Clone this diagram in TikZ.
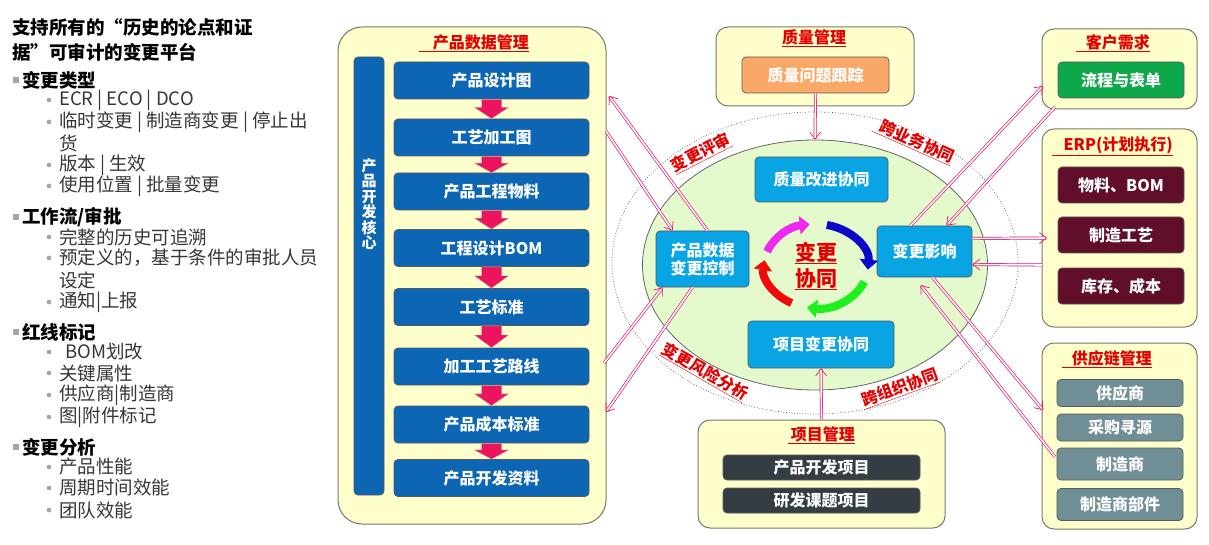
\documentclass[tikz,border=0pt]{standalone}
\usepackage{fontspec}
\setmainfont{Noto Sans CJK SC}
\usetikzlibrary{shapes,arrows.meta,calc}

\definecolor{panelfill}{RGB}{255,255,204}
\definecolor{panelline}{RGB}{120,120,110}
\definecolor{pdblue}{RGB}{12,102,180}
\definecolor{cyanbox}{RGB}{8,164,228}
\definecolor{collabgreen}{RGB}{228,250,204}
\definecolor{linkpink}{RGB}{232,24,112}
\definecolor{blockpink}{RGB}{236,20,92}
\definecolor{titlered}{RGB}{228,0,0}
\definecolor{qorange}{RGB}{250,168,104}
\definecolor{cusgreen}{RGB}{14,168,74}
\definecolor{erpmaroon}{RGB}{96,14,42}
\definecolor{prjdark}{RGB}{52,60,68}
\definecolor{scmgray}{RGB}{112,142,150}
\definecolor{listgray}{RGB}{55,55,55}
\definecolor{bulletgray}{RGB}{165,165,165}
\definecolor{cycmagenta}{RGB}{240,40,240}
\definecolor{cycblue}{RGB}{10,10,200}
\definecolor{cycgreen}{RGB}{30,240,30}
\definecolor{cycred}{RGB}{240,10,10}

\begin{document}
\begin{tikzpicture}[x=1pt,y=-1pt]
\tikzset{
	panel/.style={draw=panelline, fill=panelfill, line width=1pt, rounded corners=12pt},
	ptitle/.style={text=titlered, font=\bfseries\fontsize{16}{18}\selectfont, inner sep=0pt},
	box/.style={draw=gray!70!black, line width=0.7pt, rounded corners=4pt, text=white, font=\bfseries\fontsize{16}{18}\selectfont, inner sep=0pt},
	pdbox/.style={box, fill=pdblue, minimum width=195pt, minimum height=37pt},
	cobox/.style={box, fill=cyanbox, align=center},
	sidebox/.style={box, minimum width=126pt, minimum height=36pt},
	link/.style={draw=linkpink, line width=0.7pt, double=white, double distance=1.6pt, -{Straight Barb[length=7pt,width=11pt]}},
	blockarr/.style={fill=blockpink, draw=gray!60, line width=0.4pt},
	cycarr/.style={line width=8pt, -{Triangle[length=10pt,width=18pt]}},
	arclabel/.style={text=titlered, font=\bfseries\fontsize{16}{18}\selectfont, inner sep=0pt},
	listhead/.style={anchor=west, inner sep=0pt, font=\bfseries\fontsize{18.5}{20}\selectfont},
	listitem/.style={anchor=west, inner sep=0pt, text=listgray, font=\fontsize{18.5}{20}\selectfont}
}

\fill[white] (0,0) rectangle (1209,545);
\useasboundingbox (0,0) rectangle (1209,545);

% left list
\node[listhead] (ttl1) at (12,27) {支持所有的“历史的论点和证};
\node[listhead] (ttl2) at (12,52) {据”可审计的变更平台};
\foreach \y/\t in {80/变更类型, 217/{工作流/审批}, 332/红线标记, 447/变更分析}{
	\fill[bulletgray] (13,\y-3) rectangle (19,\y+3);
	\node[listhead] at (22,\y) {\t};
}
\foreach \y/\t in {100/{ECR | ECO | DCO}, 122/{临时变更 | 制造商变更 |  停止出}, 165/{版本 |  生效}, 186/{使用位置 | 批量变更}, 237/完整的历史可追溯, 258/预定义的，基于条件的审批人员, 302/通知|上报, 352/{\hspace{6pt}BOM划改}, 373/关键属性, 395/供应商|制造商, 417/图|附件标记, 467/产品性能, 488/周期时间效能, 510/团队效能}{
	\fill[bulletgray] (49,\y) circle (2.3);
	\node[listitem] at (59,\y) {\t};
}
\node[listitem] at (59,143) {货};
\node[listitem] at (59,280) {设定};

% panels
\node[panel, rounded corners=24pt, minimum width=268pt, minimum height=497pt] (pdm) at (472,275.5) {};
\node[panel, minimum width=198pt, minimum height=79pt] (qm) at (815,66.5) {};
\node[panel, minimum width=155pt, minimum height=80pt] (cus) at (1119.5,69) {};
\node[panel, minimum width=155pt, minimum height=198pt] (erp) at (1119.5,228) {};
\node[panel, minimum width=155pt, minimum height=186pt] (scm) at (1119.5,436) {};
\node[panel, minimum width=247pt, minimum height=108pt] (prj) at (821.5,474) {};

\node[ptitle, anchor=east] at (529,43) {\underline{\hspace{14pt}产品数据管理}};
\node[ptitle] at (814,38) {\underline{质量管理}};
\node[ptitle, anchor=east] at (1150,43) {\underline{\hspace{10pt}客户需求}};
\node[ptitle, anchor=east] at (1173,146) {\underline{\hspace{12pt}ERP(计划执行)}};
\node[ptitle, anchor=east] at (1152,359) {\underline{\hspace{10pt}供应链管理}};
\node[ptitle, anchor=east] at (855,435) {\underline{\hspace{3pt}项目管理}};

% product data column
\node[box, fill=pdblue, minimum width=30pt, minimum height=438pt] (core) at (369,276) {};
\node[text=white, align=center, inner sep=0pt, font=\bfseries\fontsize{15}{15.5}\selectfont] (coretxt) at (369,204) {产\\品\\开\\发\\核\\心};
\node[pdbox] (pd1) at (491.5,80.5) {产品设计图};
\node[pdbox] (pd2) at (491.5,137.5) {工艺加工图};
\node[pdbox] (pd3) at (491.5,191.5) {产品工程物料};
\node[pdbox] (pd4) at (491.5,248) {工程设计BOM};
\node[pdbox] (pd5) at (491.5,307) {工艺标准};
\node[pdbox] (pd6) at (491.5,366.5) {加工工艺路线};
\node[pdbox] (pd7) at (491.5,424.5) {产品成本标准};
\node[pdbox] (pd8) at (491.5,478) {产品开发资料};
\foreach \a/\b in {pd1/pd2,pd2/pd3,pd3/pd4,pd4/pd5,pd5/pd6,pd6/pd7,pd7/pd8}
	\draw[blockarr] ($(\a.south)+(-10,0)$) -- ($(\a.south)!0.42!(\b.north)+(-10,0)$) -- ++(-7,0) -- (\b.north) -- ($(\a.south)!0.42!(\b.north)+(17,0)$) -- ++(-7,0) -- ($(\a.south)+(10,0)$) -- cycle;

% collaboration ring
\draw[dotted, gray!70!black, line width=0.7pt] (815,263) ellipse [x radius=203, y radius=151];
\node[ellipse, draw=gray!80!black, line width=0.8pt, fill=collabgreen, minimum width=345pt, minimum height=250pt] (collab) at (815,265) {};
\node[cobox, minimum width=133pt, minimum height=45pt] (qco) at (821.5,179.5) {质量改进协同};
\node[cobox, minimum width=93pt, minimum height=56pt] (ctl) at (702.5,259) {产品数据\\变更控制};
\node[cobox, minimum width=95pt, minimum height=51pt] (imp) at (924.5,251.5) {变更影响};
\node[cobox, minimum width=146pt, minimum height=47pt] (pcb) at (821,344.5) {项目变更协同};

\coordinate (cyc) at (816,266);
\draw[cycarr, draw=cycmagenta] (cyc) ++(-160:52 and 42) arc[start angle=-160, end angle=-97, x radius=52, y radius=42];
\draw[cycarr, draw=cycblue] (cyc) ++(-78:52 and 42) arc[start angle=-78, end angle=5, x radius=52, y radius=42];
\draw[cycarr, draw=cycgreen] (cyc) ++(22:52 and 42) arc[start angle=22, end angle=100, x radius=52, y radius=42];
\draw[cycarr, draw=cycred] (cyc) ++(118:52 and 42) arc[start angle=118, end angle=188, x radius=52, y radius=42];
\node[text=titlered, align=center, inner sep=0pt, font=\bfseries\fontsize{21}{26}\selectfont] (ctext) at (816,266) {\underline{变更}\\\underline{协同}};

\node[arclabel, rotate=27] (lbrev) at (701,153) {\underline{变更评审}};
\node[arclabel, rotate=-24] (lbbiz) at (914,141) {\underline{\hspace{6pt}跨业务协同}};
\node[arclabel, rotate=-30] (lbrisk) at (705,372) {\underline{变更风险分析}};
\node[arclabel, rotate=20] (lborg) at (900,388) {\underline{跨组织协同}};

% side boxes
\node[sidebox, fill=qorange, minimum width=147pt] (qit) at (815.5,75) {质量问题跟踪};
\node[sidebox, fill=cusgreen] (flow) at (1121,80) {流程与表单};
\node[sidebox, fill=erpmaroon] (mat) at (1121,185) {物料、BOM};
\node[sidebox, fill=erpmaroon] (proc) at (1121,235) {制造工艺};
\node[sidebox, fill=erpmaroon] (cost) at (1121,286) {库存、成本};
\node[sidebox, fill=scmgray, minimum height=27pt] (sup) at (1120,393) {供应商};
\node[sidebox, fill=scmgray, minimum height=27pt] (src) at (1120,427.5) {采购寻源};
\node[sidebox, fill=scmgray, minimum height=32pt] (mfr) at (1120,464) {制造商};
\node[sidebox, fill=scmgray, minimum height=32pt] (mfp) at (1120,504.5) {制造商部件};
\node[sidebox, fill=prjdark, minimum width=197pt, minimum height=25pt] (dev) at (821.5,467.5) {产品开发项目};
\node[sidebox, fill=prjdark, minimum width=197pt, minimum height=25pt] (rnd) at (821.5,500.5) {研发课题项目};

% links
\coordinate (pdmA) at (609,96);
\coordinate (pdmB) at (606,131);
\coordinate (pdmC) at (604,363);
\coordinate (pdmD) at (606,412);
\coordinate (cusA) at (1043,86);
\coordinate (cusB) at (1055,107);
\coordinate (erpA) at (1047,238);
\coordinate (erpB) at (1042,265);
\coordinate (scmA) at (1043,410);
\coordinate (scmB) at (1055,457);
\draw[link] ([xshift=5pt]ctl.north) -- (pdmA);
\draw[link] (pdmB) -- ([xshift=17pt]ctl.north west);
\draw[link] (pdmC) -- ([xshift=7pt]ctl.south west);
\draw[link] ([xshift=-10pt]ctl.south) -- (pdmD);
\draw[link] ([xshift=-14pt]imp.north) -- (cusA);
\draw[link] (cusB) -- ([xshift=22pt]imp.north);
\draw[link] ([yshift=13pt]imp.east) -- (erpA);
\draw[link] (erpB) -- ([yshift=-13pt]imp.east);
\draw[link] ([xshift=8pt]imp.south) -- (scmA);
\draw[link, shorten >=10pt] (scmB) -- ([xshift=-10pt]imp.south);
\draw[link] (qit.south) -- (collab.north);
\draw[link] (prj.north) -- (pcb.south);
\end{tikzpicture}
\end{document}
